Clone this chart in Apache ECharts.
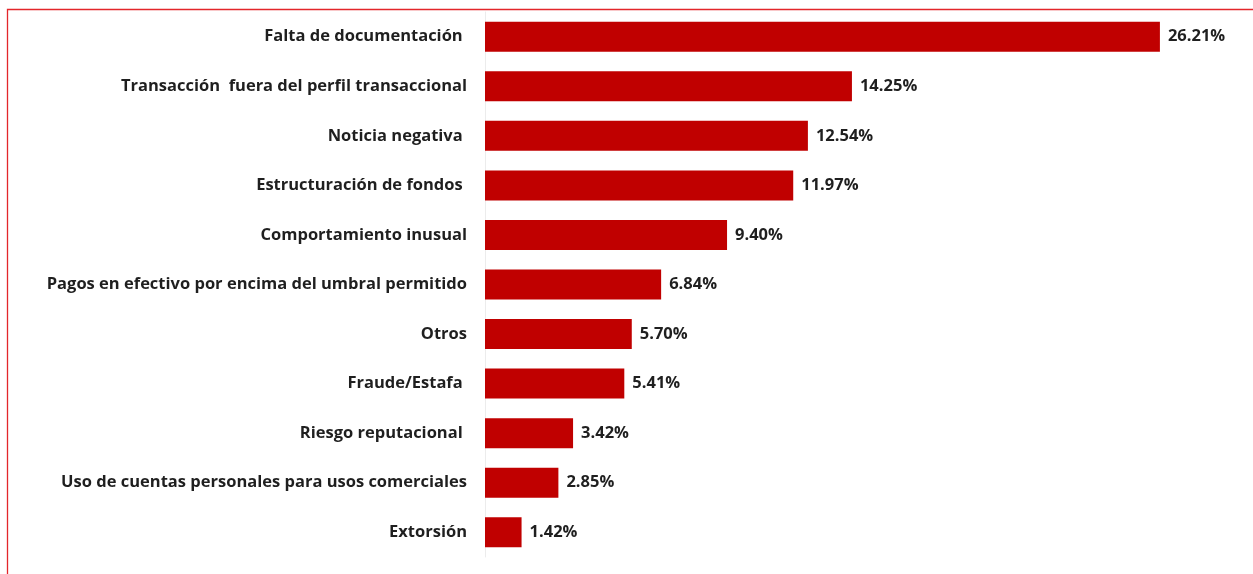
<!DOCTYPE html>
<html>
<head>
<meta charset="utf-8">
<style>
html,body{margin:0;padding:0;background:#fff;}
#chart{position:absolute;left:0;top:0;width:1253px;height:574px;}
</style>
<script src="https://cdn.jsdelivr.net/npm/echarts@6/dist/echarts.min.js"></script>
</head>
<body>
<div id="chart"></div>
<script>
var categories = [
  'Falta de documentación ',
  'Transacción  fuera del perfil transaccional',
  'Noticia negativa ',
  'Estructuración de fondos ',
  'Comportamiento inusual',
  'Pagos en efectivo por encima del umbral permitido',
  'Otros',
  'Fraude/Estafa ',
  'Riesgo reputacional ',
  'Uso de cuentas personales para usos comerciales',
  'Extorsión'
];
var values = [26.21, 14.25, 12.54, 11.97, 9.40, 6.84, 5.70, 5.41, 3.42, 2.85, 1.42];

var chart = echarts.init(document.getElementById('chart'), null, {renderer: 'canvas'});
chart.setOption({
  animation: false,
  backgroundColor: '#ffffff',
  graphic: [{
    type: 'rect',
    silent: true,
    shape: {x: 7.5, y: 9.5, width: 1270, height: 600},
    style: {fill: 'none', stroke: '#e3262b', lineWidth: 1.3}
  }],
  grid: {left: 485, top: 12, height: 545, width: 721, containLabel: false},
  xAxis: {
    type: 'value', min: 0, max: 28,
    show: false
  },
  yAxis: {
    type: 'category',
    data: categories,
    inverse: true,
    axisLine: {show: true, lineStyle: {color: '#ececec', width: 1}},
    axisTick: {show: false},
    axisLabel: {
      margin: 18,
      color: '#1f1f1f',
      fontFamily: 'Open Sans',
      fontWeight: 'bold',
      fontSize: 16.5
    }
  },
  series: [{
    type: 'bar',
    data: values,
    barWidth: 30,
    itemStyle: {color: '#c00000'},
    label: {
      show: true,
      position: 'right',
      distance: 8,
      color: '#1f1f1f',
      fontFamily: 'Open Sans',
      fontWeight: 'bold',
      fontSize: 16.5,
      formatter: function(p){ return p.value.toFixed(2) + '%'; }
    }
  }]
});
</script>
</body>
</html>
